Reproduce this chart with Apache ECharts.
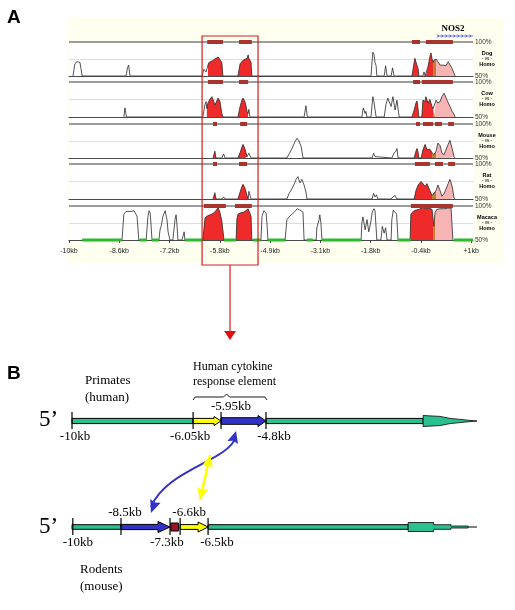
<!DOCTYPE html>
<html><head><meta charset="utf-8">
<script src="https://cdn.jsdelivr.net/npm/echarts@6/dist/echarts.min.js"></script>
<style>html,body{margin:0;padding:0;background:#fff}#c{width:515px;height:610px}</style>
</head><body><div id="c"></div>
<script>
// ================= Panel A data (x in kb, y in % identity) =================
const trackNames = ['Dog','Cow','Mouse','Rat','Macaca'];
const tickValues = [-10,-8.625,-7.25,-5.875,-4.5,-3.125,-1.75,-0.375,1];
const tickLabels = ['-10kb','-8.6kb','-7.2kb','-5.8kb','-4.9kb','-3.1kb','-1.8kb','-0.4kb','+1kb'];

const dogCurve = [[-9.89,50],[-9.84,68],[-9.78,71],[-9.73,73],[-9.70,70],[-9.64,50],[-8.44,50],[-8.40,62],[-8.37,66],[-8.33,50],[-6.36,50],[-6.31,60],[-6.25,56],[-6.20,66],[-6.17,70],[-6.09,72],[-6.01,75],[-5.92,78],[-5.87,77],[-5.82,70],[-5.79,50],[-5.38,50],[-5.32,68],[-5.24,73],[-5.19,72],[-5.13,76],[-5.10,81],[-5.08,76],[-5.05,78],[-5.02,70],[-5.00,50],[-1.74,50],[-1.71,72],[-1.69,85],[-1.66,82],[-1.63,70],[-1.60,65],[-1.58,50],[-1.38,50],[-1.34,65],[-1.30,50],[-1.19,50],[-1.15,62],[-1.11,50],[-0.62,50],[-0.56,70],[-0.54,76],[-0.51,74],[-0.45,60],[-0.43,50],[-0.32,50],[-0.29,56],[-0.26,50],[-0.24,50],[-0.18,64],[-0.13,78],[-0.10,84],[-0.07,75],[-0.04,70],[-0.02,73],[0.04,75],[0.09,71],[0.15,66],[0.20,68],[0.23,66],[0.31,65],[0.37,71],[0.42,69],[0.48,61],[0.53,54],[0.56,50]];
const cowCurve = [[-8.50,50],[-8.47,63],[-8.43,50],[-6.34,50],[-6.28,68],[-6.25,72],[-6.23,62],[-6.20,70],[-6.14,76],[-6.09,79],[-6.06,75],[-6.01,67],[-5.95,74],[-5.92,77],[-5.87,72],[-5.82,55],[-5.79,50],[-5.38,50],[-5.32,65],[-5.27,74],[-5.24,77],[-5.19,72],[-5.16,66],[-5.13,58],[-5.10,55],[-5.08,61],[-5.05,50],[-3.57,50],[-3.52,66],[-3.48,50],[-1.99,50],[-1.95,63],[-1.90,55],[-1.88,58],[-1.85,50],[-1.74,50],[-1.69,79],[-1.66,72],[-1.60,50],[-1.38,50],[-1.33,68],[-1.28,77],[-1.19,65],[-1.14,79],[-1.08,60],[-1.03,74],[-0.97,50],[-0.62,50],[-0.56,60],[-0.51,70],[-0.48,73],[-0.45,60],[-0.43,50],[-0.35,50],[-0.32,74],[-0.26,72],[-0.24,79],[-0.18,70],[-0.13,75],[-0.07,65],[-0.04,62],[0.01,60],[0.04,74],[0.09,70],[0.15,72],[0.20,79],[0.26,84],[0.28,86],[0.34,74],[0.42,65],[0.48,58],[0.53,54],[0.56,50]];
const mouseCurve = [[-6.06,50],[-6.01,60],[-5.98,50],[-5.82,50],[-5.77,56],[-5.73,50],[-5.38,50],[-5.32,58],[-5.27,66],[-5.24,70],[-5.19,64],[-5.13,52],[-5.10,50],[-5.08,57],[-5.02,50],[-4.04,50],[-3.98,56],[-3.96,54],[-3.90,64],[-3.82,74],[-3.76,79],[-3.71,75],[-3.65,67],[-3.60,50],[-1.71,50],[-1.67,57],[-1.63,52],[-1.60,50],[-1.17,50],[-1.11,57],[-1.06,60],[-1.03,64],[-1.00,50],[-0.56,50],[-0.51,60],[-0.48,64],[-0.45,58],[-0.43,50],[-0.37,50],[-0.32,62],[-0.26,70],[-0.21,62],[-0.18,60],[-0.13,63],[-0.07,58],[-0.02,55],[0.04,60],[0.09,72],[0.15,68],[0.20,57],[0.26,55],[0.31,62],[0.37,70],[0.42,76],[0.48,64],[0.53,52],[0.56,50]];
const ratCurve = [[-6.06,50],[-6.01,59],[-5.98,50],[-5.82,50],[-5.77,53],[-5.73,50],[-5.38,50],[-5.32,60],[-5.27,68],[-5.24,71],[-5.19,66],[-5.13,55],[-5.10,50],[-5.08,61],[-5.02,50],[-4.04,50],[-3.98,58],[-3.93,62],[-3.85,70],[-3.79,78],[-3.74,82],[-3.68,73],[-3.63,78],[-3.57,70],[-3.52,60],[-3.49,50],[-1.71,50],[-1.67,58],[-1.63,53],[-1.59,56],[-1.55,50],[-1.19,50],[-1.14,53],[-1.08,55],[-1.03,50],[-0.56,50],[-0.51,62],[-0.45,70],[-0.37,75],[-0.32,72],[-0.26,68],[-0.21,72],[-0.18,70],[-0.13,62],[-0.07,55],[-0.02,53],[0.04,62],[0.09,70],[0.15,62],[0.20,54],[0.26,58],[0.31,64],[0.37,72],[0.42,78],[0.48,68],[0.53,52],[0.56,50]];
const macacaCurve = [[-8.55,50],[-8.50,88],[-8.44,92],[-8.39,93],[-8.30,92],[-8.22,93],[-8.17,91],[-8.14,85],[-8.09,50],[-7.89,50],[-7.84,85],[-7.81,93],[-7.78,90],[-7.76,75],[-7.73,50],[-7.54,50],[-7.51,65],[-7.48,70],[-7.43,85],[-7.37,93],[-7.32,80],[-7.29,62],[-7.24,50],[-7.16,50],[-7.10,80],[-7.07,87],[-7.05,75],[-7.02,50],[-6.91,50],[-6.85,62],[-6.83,50],[-6.34,50],[-6.28,82],[-6.23,85],[-6.14,87],[-6.06,89],[-5.98,93],[-5.92,98],[-5.87,90],[-5.82,78],[-5.76,50],[-5.43,50],[-5.41,80],[-5.38,88],[-5.30,90],[-5.21,91],[-5.16,93],[-5.10,96],[-5.05,94],[-5.02,85],[-5.00,50],[-4.75,50],[-4.72,85],[-4.67,93],[-4.61,90],[-4.58,70],[-4.56,50],[-4.09,50],[-4.04,80],[-3.98,84],[-3.90,88],[-3.82,92],[-3.76,96],[-3.68,94],[-3.60,91],[-3.57,50],[-3.24,50],[-3.22,68],[-3.16,80],[-3.14,87],[-3.11,75],[-3.08,50],[-2.01,50],[-1.99,75],[-1.96,84],[-1.90,65],[-1.85,80],[-1.80,62],[-1.74,78],[-1.71,90],[-1.66,96],[-1.63,93],[-1.58,50],[-1.47,50],[-1.43,70],[-1.38,60],[-1.34,68],[-1.30,50],[-1.19,50],[-1.17,80],[-1.13,94],[-1.08,92],[-1.04,88],[-1.00,50],[-0.67,50],[-0.65,88],[-0.59,92],[-0.51,94],[-0.43,95],[-0.32,98],[-0.24,96],[-0.15,97],[-0.07,95],[-0.04,80],[-0.02,70],[0.01,90],[0.06,95],[0.15,96],[0.26,96],[0.37,97],[0.45,97],[0.48,95],[0.50,50]];

// conserved non-coding (red), overlap (brown), UTR (pink) regions
const dogRed = [[-6.22,-5.79],[-5.38,-5.00],[-0.62,-0.43],[-0.24,-0.04]];
const dogBrown = [[-0.04,0.04]];
const dogPink = [[0.04,0.56]];
const cowRed = [[-6.23,-5.79],[-5.38,-5.10],[-0.62,-0.43],[-0.35,-0.04]];
const cowBrown = [[-0.04,0.01]];
const cowPink = [[0.01,0.56]];
const mouseRed = [[-6.06,-5.98],[-5.38,-5.10],[-0.56,-0.43],[-0.37,-0.07]];
const mouseBrown = [[-0.07,0.04]];
const mousePink = [[0.04,0.56]];
const ratRed = [[-6.06,-5.98],[-5.38,-5.10],[-0.56,-0.07]];
const ratBrown = [[-0.07,0.04]];
const ratPink = [[0.04,0.56]];
const macacaRed = [[-6.34,-5.76],[-5.43,-5.00],[-0.67,-0.04]];
const macacaBrown = [[-0.04,0.01]];
const macacaPink = [[0.01,0.50]];

// conserved-region bars drawn on the 100% line
const dogCns = [[-6.22,-5.79],[-5.35,-5.00],[-0.62,-0.40],[-0.24,0.50]];
const cowCns = [[-6.20,-5.79],[-5.35,-5.10],[-0.59,-0.40],[-0.35,0.50]];
const mouseCns = [[-6.06,-5.95],[-5.32,-5.13],[-0.51,-0.40],[-0.32,-0.04],[0.01,0.20],[0.37,0.53]];
const ratCns = [[-6.06,-5.95],[-5.35,-5.13],[-0.54,-0.13],[0.01,0.23],[0.37,0.56]];
const macacaCns = [[-6.31,-5.71],[-5.46,-5.00],[-0.65,0.50]];

// green baseline segments (Macaca track)
const macacaGreen = [[-9.64,-8.55],[-8.06,-7.87],[-7.73,-7.54],[-6.83,-6.34],[-5.76,-5.43],[-4.97,-4.75],[-4.56,-4.07],[-3.49,-3.33],[-3.08,-2.01],[-1.00,-0.65],[0.53,1.05]];

const fullRange = [[-10,1.05]];      // extent of each track's 100% line
const boxRange = [-6.36, -4.83];    // highlighted region
const nos2Range = [0.06, 1.05];      // NOS2 gene start

// ================= Panel B data (schematic units 0..100 along each line) =================
const humanSegments = [[0,29.9,'teal','bar'],[29.9,36.8,'yellow','arrow'],[36.8,47.9,'blue','arrow'],[47.9,86.7,'teal','bar'],[86.7,100,'teal','tipHuman']];
const mouseSegments = [[0,12.1,'teal','bar'],[12.1,24.2,'blue','arrow'],[24.4,26.3,'darkred','box'],[26.7,33.6,'yellow','arrow'],[33.6,83.0,'teal','bar'],[83.0,100,'teal','tipMouse']];
const humanBreaks = [[0,'-10kb','below'],[29.9,'-6.05kb','below'],[36.8,'-5.95kb','above'],[47.9,'-4.8kb','below']];
const mouseBreaks = [[0.2,'-10kb','below'],[12.1,'-8.5kb','above'],[24.2,'-7.3kb','below'],[26.7,'-6.6kb','above'],[33.6,'-6.5kb','below']];
const humanLabelDx = [3,-3,10,8];
const mouseLabelDx = [5,4,-3,9,9];
const homologyLinks = [[40.5,0.906,19.5,0.132,'blue'],[34.1,0.679,31.6,0.255,'yellow']];

// ================= build =================
const SERIF = '"Liberation Serif","Times New Roman",serif';
const SANS = '"Liberation Sans",Arial,sans-serif';
const colors = {red:'#ee2a2a', brown:'#c77a2e', pink:'#f6b4b4', cns:'#a8342e', green:'#2db82d',
  teal:'#2cc090', yellow:'#ffff00', blue:'#3232c8', darkred:'#a0102a', topLine:'#9c9c9c'};

const tracks = [
  {curve:dogCurve, red:dogRed, brown:dogBrown, pink:dogPink, cns:dogCns},
  {curve:cowCurve, red:cowRed, brown:cowBrown, pink:cowPink, cns:cowCns},
  {curve:mouseCurve, red:mouseRed, brown:mouseBrown, pink:mousePink, cns:mouseCns},
  {curve:ratCurve, red:ratRed, brown:ratBrown, pink:ratPink, cns:ratCns},
  {curve:macacaCurve, red:macacaRed, brown:macacaBrown, pink:macacaPink, cns:macacaCns, green:macacaGreen}
];
const gridTops = [42,82,124,164,206], gridH = [34,35,34,35,34];
const grid=[], xAxis=[], yAxis=[], series=[];

function sub(curve,a,b){ return curve.filter(p=>p[0]>=a-1e-6 && p[0]<=b+1e-6); }
function fillSeries(i, data, color){
  return {type:'line', xAxisIndex:i, yAxisIndex:i, data, symbol:'none', silent:true, z:2,
    lineStyle:{width:0}, areaStyle:{color, opacity:1, origin:'start'}};
}
function rectSeries(i, data, yVal, h, color, z){
  return {type:'custom', xAxisIndex:i, yAxisIndex:i, data, silent:true, z, clip:false,
    encode:{x:[0,1]},
    renderItem:(p,api)=>{
      const a=api.coord([api.value(0),yVal]), b=api.coord([api.value(1),yVal]);
      return {type:'rect', shape:{x:a[0], y:a[1]-h/2, width:b[0]-a[0], height:h}, style:{fill:color}};
    }};
}

tracks.forEach((t,i)=>{
  const last = i===4;
  grid.push({left:69, width:404, top:gridTops[i], height:gridH[i]});
  xAxis.push({type:'value', gridIndex:i, min:-10, max:1.05,
    axisLine:{show:true, onZero:false, lineStyle:{color:'#4a4a4a', width:1.2}},
    axisTick:{show:last, customValues:tickValues, length:3, lineStyle:{color:'#444'}},
    axisLabel:{show:last, customValues:tickValues, fontSize:7, color:'#222', margin:8, fontFamily:SANS,
      formatter:v=>{const k=tickValues.findIndex(q=>Math.abs(q-v)<0.01); return k<0?'':tickLabels[k];}},
    splitLine:{show:false}});
  yAxis.push({type:'value', gridIndex:i, min:50, max:100, interval:25, position:'right',
    axisLine:{show:false}, axisTick:{show:false},
    axisLabel:{show:true, fontSize:6.5, color:'#333', margin:2, fontFamily:SANS,
      formatter:v=> v===100?'100%':(v===50?'50%':'')},
    splitLine:{show:true, lineStyle:{color:'#dedede', width:1}}});
  series.push(rectSeries(i, fullRange, 100, 2, colors.topLine, 1));
  t.red.forEach(r=>series.push(fillSeries(i, sub(t.curve,r[0],r[1]), colors.red)));
  t.brown.forEach(r=>series.push(fillSeries(i, sub(t.curve,r[0],r[1]), colors.brown)));
  t.pink.forEach(r=>series.push(fillSeries(i, sub(t.curve,r[0],r[1]), colors.pink)));
  series.push({type:'line', xAxisIndex:i, yAxisIndex:i, data:t.curve, symbol:'none', silent:true, z:3,
    lineStyle:{color:'#2a2a2a', width:0.8}});
  series.push(rectSeries(i, t.cns, 100, 4, colors.cns, 6));
  if (t.green) series.push(rectSeries(i, t.green, 50, 3, colors.green, 5));
});

// ---- Panel B grid ----
grid.push({left:72, width:405, top:421, height:106});
xAxis.push({type:'value', gridIndex:5, min:0, max:100, show:false});
yAxis.push({type:'value', gridIndex:5, min:0, max:1, show:false});

const rowSize = {
  1:{bar:2.6, body:{yellow:2.6, blue:3.3}, head:{yellow:4.5, blue:5.5}, headLen:{yellow:7, blue:8}},
  0:{bar:2.3, body:{yellow:2.4, blue:2.6}, head:{yellow:5, blue:5.5}, headLen:{yellow:10, blue:12}}
};
function segRender(segs, row){
  return (p, api)=>{
    const s = segs[p.dataIndex], sz = rowSize[row];
    const a = api.coord([s[0],row]), b = api.coord([s[1],row]);
    const y=a[1], x0=a[0], x1=b[0], col=colors[s[2]];
    const st = {fill:col, stroke:'#000', lineWidth:1};
    if (s[3]==='bar') return {type:'rect', shape:{x:x0,y:y-sz.bar,width:x1-x0,height:2*sz.bar}, style:st};
    if (s[3]==='box') return {type:'rect', shape:{x:x0,y:y-4,width:x1-x0,height:8}, style:st};
    if (s[3]==='arrow'){
      const hl=sz.headLen[s[2]], bh=sz.body[s[2]], hh=sz.head[s[2]];
      return {type:'polygon', shape:{points:[[x0,y-bh],[x1-hl,y-bh],[x1-hl,y-hh],[x1,y],[x1-hl,y+hh],[x1-hl,y+bh],[x0,y+bh]]}, style:st};
    }
    if (s[3]==='tipHuman'){
      const W=x1-x0;
      const up=[[0,-5.5],[W*0.31,-4.6],[W*0.5,-2.6],[W*0.87,-0.6],[W,0]];
      const pts=up.concat(up.slice(0,4).reverse().map(q=>[q[0],-q[1]])).map(q=>[x0+q[0],y+q[1]]);
      return {type:'polygon', shape:{points:pts}, style:{fill:col, stroke:'#000', lineWidth:0.8}};
    }
    if (s[3]==='tipMouse'){
      const W=x1-x0;
      const up=[[0,-4.5],[W*0.37,-4.5],[W*0.37,-2.3],[W*0.62,-2.3],[W*0.62,-1],[W*0.87,-1]];
      const pts=up.concat(up.slice().reverse().map(q=>[q[0],-q[1]])).map(q=>[x0+q[0],y+q[1]]);
      return {type:'group', children:[
        {type:'polygon', shape:{points:pts}, style:{fill:col, stroke:'#000', lineWidth:0.8}},
        {type:'line', shape:{x1:x0+W*0.87,y1:y,x2:x1,y2:y}, style:{stroke:'#000', lineWidth:1}}]};
    }
  };
}
function breakRender(brks, row, dxs){
  return (p, api)=>{
    const bk = brks[p.dataIndex];
    const c = api.coord([bk[0], row]);
    const above = bk[2]==='above';
    return {type:'group', children:[
      {type:'line', shape:{x1:c[0],y1:c[1]-9,x2:c[0],y2:c[1]+8}, style:{stroke:'#000', lineWidth:1.2}},
      {type:'text', style:{text:bk[1], x:c[0]+dxs[p.dataIndex], y: above? c[1]-14 : c[1]+16,
        font:'13px '+SERIF, fill:'#000', align:'center', verticalAlign:'middle'}}
    ]};
  };
}
function headPoly(tip, from, len, half, col){
  const dx=tip[0]-from[0], dy=tip[1]-from[1], d=Math.hypot(dx,dy)||1, ux=dx/d, uy=dy/d;
  const bx=tip[0]-ux*len, by=tip[1]-uy*len;
  return {type:'polygon', shape:{points:[tip,[bx-uy*half,by+ux*half],[bx+ux*len*0.15,by+uy*len*0.15],[bx+uy*half,by-ux*half]]}, style:{fill:col}};
}
function linkRender(p, api){
  const l = homologyLinks[p.dataIndex];
  const p0=api.coord([l[0],l[1]]), p3=api.coord([l[2],l[3]]), col=colors[l[4]];
  if (l[4]==='blue'){
    const c1=[p0[0]-9,p0[1]+31], c2=[p3[0]+16,p3[1]-44];
    return {type:'group', children:[
      {type:'bezierCurve', shape:{x1:p0[0],y1:p0[1]+6,x2:p3[0],y2:p3[1]-6,cpx1:c1[0],cpy1:c1[1],cpx2:c2[0],cpy2:c2[1]}, style:{stroke:col, lineWidth:2, fill:null}},
      headPoly(p0, c1, 12, 5.5, col), headPoly(p3, c2, 13, 5.5, col)]};
  }
  return {type:'group', children:[
    {type:'line', shape:{x1:p0[0],y1:p0[1],x2:p3[0],y2:p3[1]}, style:{stroke:col, lineWidth:2.5}},
    headPoly(p0, p3, 12, 5.5, col), headPoly(p3, p0, 12, 5.5, col)]};
}
series.push({type:'custom', xAxisIndex:5, yAxisIndex:5, data:humanSegments.map(s=>[s[0],1,s[1]]), encode:{x:[0,2],y:1}, clip:false, silent:true, z:3, renderItem:segRender(humanSegments,1)});
series.push({type:'custom', xAxisIndex:5, yAxisIndex:5, data:mouseSegments.map(s=>[s[0],0,s[1]]), encode:{x:[0,2],y:1}, clip:false, silent:true, z:3, renderItem:segRender(mouseSegments,0)});
series.push({type:'custom', xAxisIndex:5, yAxisIndex:5, data:humanBreaks.map(b=>[b[0],1]), encode:{x:0,y:1}, clip:false, silent:true, z:4, renderItem:breakRender(humanBreaks,1,humanLabelDx)});
series.push({type:'custom', xAxisIndex:5, yAxisIndex:5, data:mouseBreaks.map(b=>[b[0],0]), encode:{x:0,y:1}, clip:false, silent:true, z:4, renderItem:breakRender(mouseBreaks,0,mouseLabelDx)});
series.push({type:'custom', xAxisIndex:5, yAxisIndex:5, data:homologyLinks.map(l=>[l[0],l[1],l[2],l[3]]), encode:{x:[0,2],y:[1,3]}, clip:false, silent:true, z:5, renderItem:linkRender});

const chart = echarts.init(document.getElementById('c'), null, {width:515, height:610});
chart.setOption({animation:false, backgroundColor:'#fff', grid, xAxis, yAxis, series});

// ---- overlays positioned through the axes ----
const px = v => chart.convertToPixel({xAxisIndex:0}, v);
const bp = (x,y) => chart.convertToPixel({gridIndex:5}, [x,y]);
const bx0 = px(boxRange[0]), bx1 = px(boxRange[1]), bmid=(bx0+bx1)/2;
const nx0 = px(nos2Range[0]), nx1 = px(nos2Range[1]);
const hA = bp(humanSegments[1][0],1), hB = bp(humanSegments[2][1],1);
const g = [];
const T = (text,x,y,font,opt={}) => g.push({type:'text', silent:true, z:opt.z||10, style:Object.assign({text,x,y,font,fill:'#000',align:'left',verticalAlign:'middle'},opt.style||{})});
// backgrounds
g.push({type:'rect', silent:true, z:-10, shape:{x:68,y:17,width:436,height:246}, style:{fill:'#fffff0'}});
g.push({type:'rect', silent:true, z:-9, shape:{x:69,y:42,width:404,height:198}, style:{fill:'#ffffff'}});
T('A',7,18,'bold 19px '+SANS);
T('B',7,374,'bold 19px '+SANS);
// track labels
trackNames.forEach((n,i)=>{
  const top=gridTops[i];
  T(n,487,top+11,'bold 5.5px '+SANS,{style:{align:'center'}});
  T('- vs -',487,top+16.5,'4.5px '+SANS,{style:{align:'center'}});
  T('Homo',487,top+22,'bold 5.5px '+SANS,{style:{align:'center'}});
});
// NOS2 gene
T('NOS2',(nx0+nx1)/2-2,29,'bold 9px '+SERIF,{style:{align:'center'}});
g.push({type:'line', silent:true, z:10, shape:{x1:nx0,y1:36,x2:nx1,y2:36}, style:{stroke:'#4455ff', lineWidth:0.8}});
for (let x=nx0+2; x<nx1-1; x+=4) g.push({type:'polyline', silent:true, z:10, shape:{points:[[x-1.5,34.5],[x,36],[x-1.5,37.5]]}, style:{stroke:'#3344ff', lineWidth:0.8, fill:null}});
// red box and arrow
g.push({type:'rect', silent:true, z:20, shape:{x:bx0,y:36,width:bx1-bx0,height:229}, style:{fill:null, stroke:'#d42020', lineWidth:1.2}});
g.push({type:'line', silent:true, z:20, shape:{x1:bmid,y1:265,x2:bmid,y2:333}, style:{stroke:'#d42020', lineWidth:1.2}});
g.push({type:'polygon', silent:true, z:20, shape:{points:[[bmid-6,331],[bmid+6,331],[bmid,340]]}, style:{fill:'#e01010'}});
// panel B texts
T('Primates',85,381,'13px '+SERIF);
T('(human)',85,398,'13px '+SERIF);
T('Human cytokine',193,367,'12px '+SERIF);
T('response element',193,382,'12px '+SERIF);
T('5\u2019',39,420,'23px '+SERIF);
T('5\u2019',39,527,'23px '+SERIF);
T('Rodents',80,570,'13px '+SERIF);
T('(mouse)',80,587,'13px '+SERIF);
// brace over the response element
const by=hA[1]-24, bm=(hA[0]+hB[0])/2-3;
g.push({type:'polyline', silent:true, z:10, shape:{points:[[hA[0],by+3],[hA[0]+2,by],[bm-3,by],[bm,by-3],[bm+3,by],[hB[0]-1,by],[hB[0]+1,by+3]]}, style:{stroke:'#000', lineWidth:0.9, fill:null}});
chart.setOption({graphic:{elements:g}});
</script></body></html>
